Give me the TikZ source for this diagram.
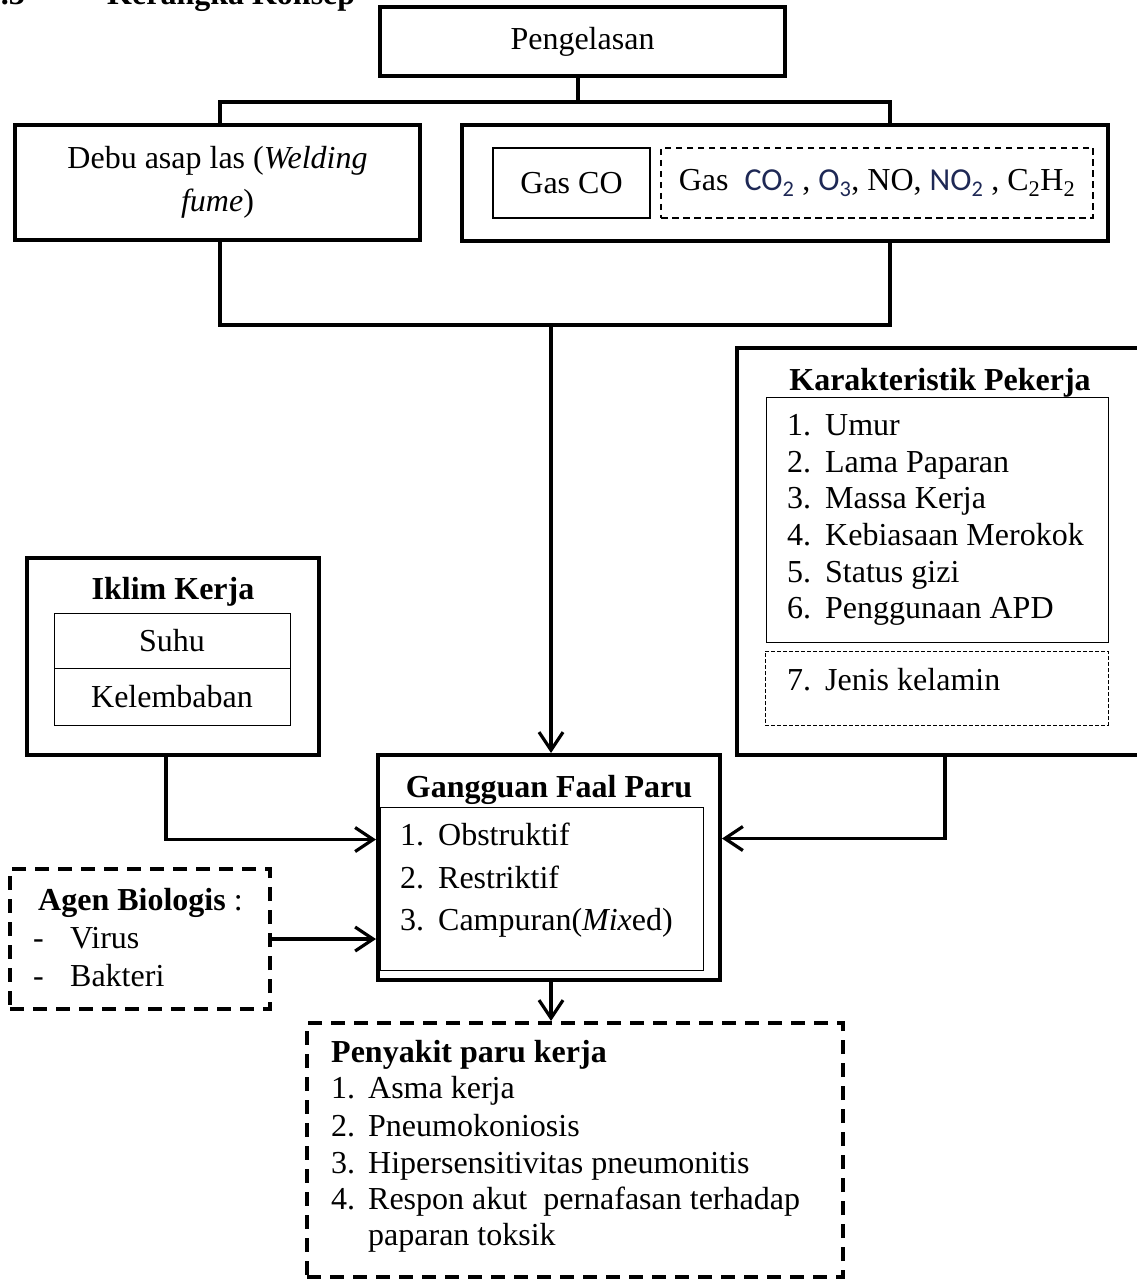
\documentclass[tikz,border=0pt]{standalone}
\usepackage{fontspec}
\setmainfont{Liberation Serif}
\newfontfamily\gasfont{Carlito}
\usetikzlibrary{arrows.meta,positioning}
\definecolor{gasblue}{RGB}{30,40,85}
\tikzset{
    % Thick outer frame
    frame/.style={draw,line width=4pt,inner sep=0pt,align=center},
    % Thin inner frame
    subframe/.style={draw,line width=0.9pt,inner sep=0pt,align=center},
    % Thick dashed frame
    dashframe/.style={draw,line width=4pt,dash pattern=on 14pt off 9pt,inner sep=0pt},
    % Thin dashed frame
    thindash/.style={draw,line width=0.8pt,dash pattern=on 4pt off 2pt,inner sep=0pt},
    % Connector line
    link/.style={line width=3.2pt},
    % Connector arrow
    flow/.style={link,-{Straight Barb[length=18pt,width=24pt,line width=3.2pt]}},
    % List entry
    entry/.style={anchor=base west,inner sep=0pt},
    % Bold heading text
    heading/.style={inner sep=0pt,font=\fontsize{32}{37}\selectfont\bfseries}
}
\newcommand{\numbox}[1]{\makebox[38pt][l]{#1}}

\begin{document}
\begin{tikzpicture}[x=1pt,y=-1pt,font=\fontsize{32}{37}\selectfont]
    \useasboundingbox (0,0) rectangle (1136,1281);

    % Heading (cut off at the top)
    \node[heading,anchor=base east] (secno) at (25,5) {2.3};
    \node[heading,anchor=base west] (sectitle) at (107,5) {Kerangka Konsep};

    % Welding
    \node[frame,line width=3.5pt,minimum width=405,minimum height=69] (weld) at (582.5,41.5) {Pengelasan};

    % Exposure sources
    \node[frame,minimum width=405,minimum height=115] (fume) at (217.5,182.5)
        {Debu asap las (\textit{Welding}\\[6pt] \textit{fume})};
    \node[frame,minimum width=646,minimum height=116] (gas) at (785,183) {};
    \node[subframe,line width=2pt,minimum width=157,minimum height=70] (gasco) at (571.5,183) {Gas CO};
    \node[draw,line width=2pt,dash pattern=on 6.5pt off 4.5pt,inner sep=0pt,minimum width=432,minimum height=70] (gasmix) at (877,183)
        {Gas\ \ {\gasfont\color{gasblue}CO\textsubscript{2}} , {\gasfont\color{gasblue}O\textsubscript{3}}, NO, {\gasfont\color{gasblue}NO\textsubscript{2}} , C\textsubscript{2}H\textsubscript{2}};

    % Branch and merge
    \coordinate (split) at (578,102);
    \coordinate (merge) at (551,325);
    \draw[link] (split |- weld.south) -- (split);
    \draw[link] (220,0 |- fume.north) -- (220,102) -- (890,102) -- (890,0 |- gas.north);
    \draw[link] (220,0 |- fume.south) -- (220,325) -- (890,325) -- (890,0 |- gas.south);

    % Worker characteristics
    \node[frame,minimum width=423,minimum height=407] (worker) at (948.5,551.5) {};
    \node[heading] (workertitle) at (940,383) {Karakteristik Pekerja};
    \node[subframe,minimum width=342,minimum height=245] (workerlist) at (937,519.5) {};
    \node[thindash,minimum width=343,minimum height=74] (workerextra) at (936.5,688) {};
    \node[entry] (w1) at (787,435) {\numbox{1.}Umur};
    \node[entry] (w2) at (787,472) {\numbox{2.}Lama Paparan};
    \node[entry] (w3) at (787,508) {\numbox{3.}Massa Kerja};
    \node[entry] (w4) at (787,545) {\numbox{4.}Kebiasaan Merokok};
    \node[entry] (w5) at (787,582) {\numbox{5.}Status gizi};
    \node[entry] (w6) at (787,618) {\numbox{6.}Penggunaan APD};
    \node[entry] (w7) at (787,690) {\numbox{7.}Jenis kelamin};

    % Work climate
    \node[frame,minimum width=292,minimum height=197] (climate) at (173,656.5) {};
    \node[heading] (climatetitle) at (173,592) {Iklim Kerja};
    \node[subframe,minimum width=236,minimum height=55] (temp) at (172,640.5) {Suhu};
    \node[subframe,minimum width=236,minimum height=57] (humid) at (172,696.5) {Kelembaban};

    % Lung function disorder
    \node[frame,minimum width=342,minimum height=225] (fault) at (549,867.5) {};
    \node[heading,anchor=base] (faulttitle) at (549,797) {Gangguan Faal Paru};
    \node[subframe,minimum width=323,minimum height=163] (faultlist) at (541.5,888.5) {};
    \node[entry] (f1) at (400,845) {\numbox{1.}Obstruktif};
    \node[entry] (f2) at (400,888) {\numbox{2.}Restriktif};
    \node[entry] (f3) at (400,930) {\numbox{3.}Campuran(\textit{Mix}ed)};

    % Biological agents
    \node[dashframe,minimum width=260,minimum height=140] (agent) at (140,939) {};
    \node[entry] (agenttitle) at (38,910) {\textbf{Agen Biologis} :};
    \node[entry] (a1) at (33,948) {\makebox[37pt][l]{-}Virus};
    \node[entry] (a2) at (33,986) {\makebox[37pt][l]{-}Bakteri};

    % Occupational lung disease
    \node[dashframe,minimum width=536,minimum height=254] (disease) at (575,1150) {};
    \node[heading,anchor=base west] (diseasetitle) at (331,1062) {Penyakit paru kerja};
    \node[entry] (d1) at (331,1098) {\makebox[37pt][l]{1.}Asma kerja};
    \node[entry] (d2) at (331,1136) {\makebox[37pt][l]{2.}Pneumokoniosis};
    \node[entry] (d3) at (331,1173) {\makebox[37pt][l]{3.}Hipersensitivitas pneumonitis};
    \node[entry] (d4) at (331,1209) {\makebox[37pt][l]{4.}Respon akut\ \ pernafasan terhadap};
    \node[entry] (d5) at (368,1245) {paparan toksik};

    % Arrows into the disorder box
    \draw[flow] (merge) -- (merge |- fault.north);
    \draw[flow] (166,0 |- climate.south) |- ([yshift=28pt]fault.west);
    \draw[flow] (945,0 |- worker.south) |- ([yshift=29pt]fault.east);
    \draw[flow] (agent.east) -- (agent.east -| fault.west);
    \draw[flow] (551,0 |- fault.south) -- (551,0 |- disease.north);
\end{tikzpicture}
\end{document}
